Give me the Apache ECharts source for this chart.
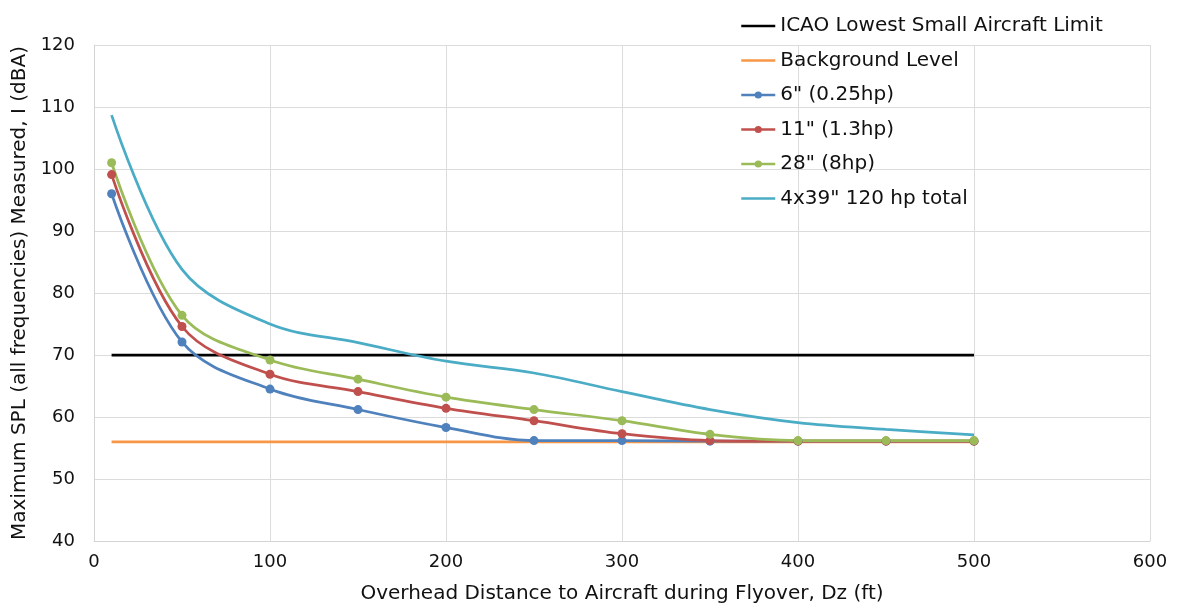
<!DOCTYPE html>
<html style="height: 100%">
<head>
    <meta charset="utf-8">
</head>
<body style="height: 100%; margin: 0; background: #fff">
    <div id="container" style="width: 1179px; height: 610px"></div>
    <script type="text/javascript" src="https://cdn.jsdelivr.net/npm/echarts@6/dist/echarts.min.js"></script>
    <script type="text/javascript">
        // overhead distance (ft)
        var distances = [10, 50, 100, 150, 200, 250, 300, 350, 400, 450, 500];
        var limitLevel = [70, 70];        // ICAO limit, drawn from 10 to 500 ft
        var backgroundLevel = [56, 56];   // background noise
        var limitX = [10, 500];
        var prop6 = [96, 72.1, 64.5, 61.2, 58.3, 56.2, 56.2, 56.1, 56.1, 56.1, 56.1];
        var prop11 = [99.1, 74.6, 66.9, 64.1, 61.4, 59.4, 57.3, 56.2, 56.1, 56.1, 56.1];
        var prop28 = [101, 76.4, 69.2, 66.1, 63.2, 61.2, 59.4, 57.2, 56.2, 56.2, 56.2];
        var prop4x39 = [108.7, 83.8, 75, 72, 69, 67.1, 64.1, 61.2, 59.1, 58, 57.1];
        var xTicks = [0, 100, 200, 300, 400, 500, 600];
        var seriesNames = ['ICAO Lowest Small Aircraft Limit', 'Background Level', '6" (0.25hp)', '11" (1.3hp)', '28" (8hp)', '4x39" 120 hp total'];

        function pairs(xs, ys) {
            return xs.map(function (x, i) { return [x, ys[i]]; });
        }

        var font = 'DejaVu Sans, Liberation Sans, Arial, sans-serif';

        var dom = document.getElementById('container');
        var myChart = echarts.init(dom, null, { renderer: 'canvas' });

        function lineSeries(name, color, data, marker) {
            return {
                name: name,
                type: 'line',
                data: data,
                smooth: data.length > 2 ? 0.35 : false,
                symbol: marker ? 'circle' : 'none',
                showSymbol: !!marker,
                symbolSize: 9,
                lineStyle: { color: color, width: 2.75 },
                itemStyle: { color: color },
                emphasis: { disabled: true },
                animation: false
            };
        }

        // legend: plain line for the series without markers
        var legendData = seriesNames.map(function (n, i) {
            var noMarker = (i === 0 || i === 1 || i === 5);
            return noMarker ? { name: n, itemStyle: { color: 'rgba(0,0,0,0)', opacity: 0 } } : { name: n };
        });

        option = {
            backgroundColor: '#fff',
            animation: false,
            grid: { left: 94, right: 29, top: 45, bottom: 69 },
            legend: {
                orient: 'vertical',
                left: 740,
                top: 16,
                padding: 0,
                itemWidth: 34,
                itemHeight: 9,
                itemGap: 14.5,
                lineStyle: { width: 2.5 },
                textStyle: { fontFamily: font, fontSize: 20, color: '#111' },
                data: legendData
            },
            xAxis: {
                type: 'value',
                min: xTicks[0],
                max: xTicks[xTicks.length - 1],
                interval: 100,
                name: 'Overhead Distance to Aircraft during Flyover, Dz (ft)',
                nameLocation: 'middle',
                nameGap: 43,
                nameTextStyle: { fontFamily: font, fontSize: 20, color: '#111' },
                axisLine: { lineStyle: { color: '#d4d4d4', width: 1 } },
                axisTick: { show: false },
                axisLabel: { fontFamily: font, fontSize: 18, color: '#111', margin: 12 },
                splitLine: { show: true, lineStyle: { color: '#dcdcdc', width: 1 } }
            },
            yAxis: {
                type: 'value',
                min: 40,
                max: 120,
                interval: 10,
                name: 'Maximum SPL (all frequencies) Measured, I (dBA)',
                nameLocation: 'middle',
                nameGap: 62,
                nameTextStyle: { fontFamily: font, fontSize: 20, color: '#111' },
                axisLine: { show: true, lineStyle: { color: '#d4d4d4', width: 1 } },
                axisTick: { show: false },
                axisLabel: { fontFamily: font, fontSize: 18, color: '#111', margin: 19 },
                splitLine: { show: true, lineStyle: { color: '#dcdcdc', width: 1 } }
            },
            series: [
                lineSeries(seriesNames[0], '#000000', pairs(limitX, limitLevel), false),
                lineSeries(seriesNames[1], '#f79646', pairs(limitX, backgroundLevel), false),
                lineSeries(seriesNames[2], '#4f81bd', pairs(distances, prop6), true),
                lineSeries(seriesNames[3], '#c0504d', pairs(distances, prop11), true),
                lineSeries(seriesNames[4], '#9bbb59', pairs(distances, prop28), true),
                lineSeries(seriesNames[5], '#4bacc6', pairs(distances, prop4x39), false)
            ]
        };

        myChart.setOption(option, true);
    </script>
</body>
</html>
